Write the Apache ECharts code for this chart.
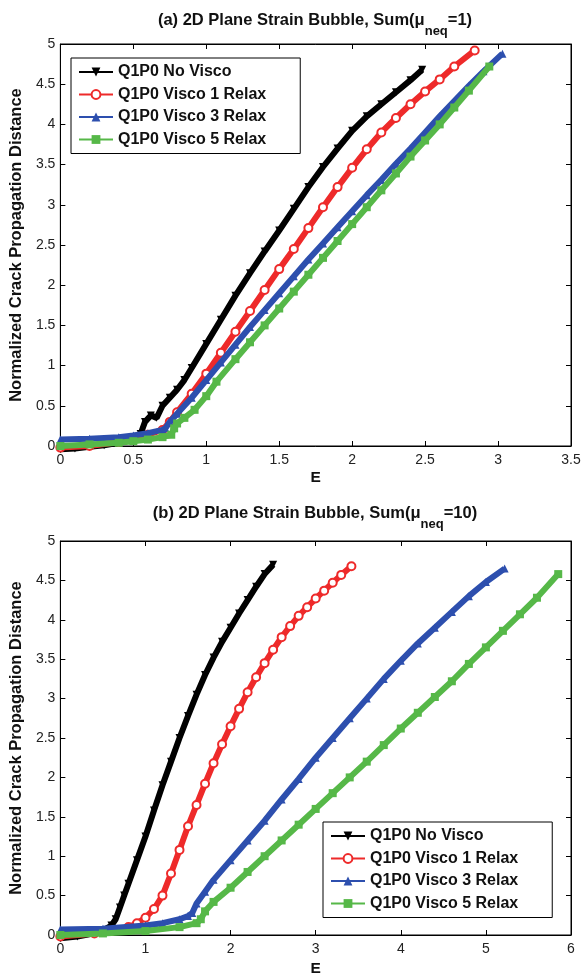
<!DOCTYPE html>
<html>
<head>
<meta charset="utf-8">
<script src="https://cdn.jsdelivr.net/npm/echarts@6/dist/echarts.min.js"></script>
<style>html,body{margin:0;padding:0;background:#fff;}#c{width:584px;height:978px;}</style>
</head>
<body>
<div id="c"></div>
<script>
// ---- data ----
const seriesNames = ['Q1P0 No Visco', 'Q1P0 Visco 1 Relax', 'Q1P0 Visco 3 Relax', 'Q1P0 Visco 5 Relax'];
const xTicksA = [0, 0.5, 1, 1.5, 2, 2.5, 3, 3.5];
const xTicksB = [0, 1, 2, 3, 4, 5, 6];
const yTicks = [0, 0.5, 1, 1.5, 2, 2.5, 3, 3.5, 4, 4.5, 5];
const titleA = '(a) 2D Plane Strain Bubble, Sum(μ{sub|neq}=1)';
const titleB = '(b) 2D Plane Strain Bubble, Sum(μ{sub|neq}=10)';

// plot (a): Sum(mu_neq = 1)
const aNoVisco = [[0,-0.04],[0.1,-0.03],[0.2,-0.01],[0.3,0.01],[0.4,0.04],[0.5,0.09],[0.55,0.15],[0.58,0.3],[0.62,0.38],[0.66,0.35],[0.7,0.5],[0.75,0.6],[0.8,0.7],[0.85,0.82],[0.9,0.97],[1.0,1.27],[1.1,1.57],[1.2,1.87],[1.3,2.15],[1.4,2.42],[1.5,2.68],[1.6,2.95],[1.7,3.22],[1.8,3.47],[1.9,3.7],[2.0,3.92],[2.1,4.1],[2.2,4.25],[2.3,4.4],[2.4,4.55],[2.48,4.68]];
const aVisco1 = [[0,-0.02],[0.2,0.0],[0.4,0.05],[0.5,0.09],[0.6,0.14],[0.7,0.2],[0.75,0.3],[0.8,0.42],[0.9,0.65],[1.0,0.9],[1.1,1.16],[1.2,1.42],[1.3,1.68],[1.4,1.94],[1.5,2.2],[1.6,2.45],[1.7,2.71],[1.8,2.97],[1.9,3.22],[2.0,3.46],[2.1,3.69],[2.2,3.9],[2.3,4.08],[2.4,4.25],[2.5,4.41],[2.6,4.56],[2.7,4.72],[2.84,4.92]];
const aVisco3 = [[0,0.08],[0.2,0.09],[0.4,0.11],[0.5,0.13],[0.6,0.16],[0.7,0.2],[0.72,0.22],[0.75,0.3],[0.8,0.4],[0.9,0.6],[1.0,0.82],[1.1,1.04],[1.2,1.26],[1.3,1.48],[1.4,1.69],[1.5,1.9],[1.6,2.11],[1.7,2.32],[1.8,2.52],[1.9,2.72],[2.0,2.92],[2.1,3.12],[2.2,3.31],[2.3,3.51],[2.4,3.7],[2.5,3.9],[2.6,4.1],[2.7,4.29],[2.8,4.48],[2.9,4.66],[3.03,4.88]];
const aVisco5 = [[0,0.0],[0.2,0.02],[0.4,0.04],[0.5,0.06],[0.6,0.08],[0.7,0.11],[0.76,0.14],[0.78,0.22],[0.8,0.28],[0.85,0.35],[0.92,0.45],[1.0,0.62],[1.07,0.8],[1.2,1.08],[1.3,1.29],[1.4,1.5],[1.5,1.71],[1.6,1.92],[1.7,2.13],[1.8,2.34],[1.9,2.55],[2.0,2.76],[2.1,2.97],[2.2,3.18],[2.3,3.39],[2.4,3.6],[2.5,3.8],[2.6,4.0],[2.7,4.21],[2.8,4.42],[2.94,4.72]];

// plot (b): Sum(mu_neq = 10)
const bNoVisco = [[0,-0.04],[0.2,-0.02],[0.4,0.02],[0.5,0.06],[0.6,0.12],[0.65,0.2],[0.7,0.35],[0.75,0.5],[0.8,0.65],[0.9,0.95],[1.0,1.25],[1.1,1.58],[1.2,1.9],[1.3,2.2],[1.4,2.5],[1.5,2.78],[1.6,3.05],[1.7,3.3],[1.8,3.52],[1.9,3.72],[2.0,3.9],[2.1,4.08],[2.2,4.25],[2.3,4.42],[2.4,4.58],[2.5,4.7]];
const bVisco1 = [[0,-0.02],[0.4,0.02],[0.6,0.05],[0.8,0.1],[0.9,0.15],[1.0,0.22],[1.1,0.33],[1.2,0.5],[1.3,0.78],[1.4,1.08],[1.5,1.38],[1.6,1.65],[1.7,1.92],[1.8,2.18],[1.9,2.42],[2.0,2.65],[2.1,2.87],[2.2,3.08],[2.3,3.27],[2.4,3.45],[2.5,3.62],[2.6,3.78],[2.7,3.92],[2.8,4.05],[2.9,4.16],[3.0,4.27],[3.1,4.37],[3.2,4.47],[3.3,4.57],[3.42,4.68]];
const bVisco3 = [[0,0.07],[0.5,0.08],[1.0,0.12],[1.2,0.15],[1.4,0.2],[1.5,0.24],[1.55,0.28],[1.6,0.4],[1.7,0.55],[1.8,0.7],[2.0,0.95],[2.2,1.2],[2.4,1.45],[2.6,1.72],[2.8,1.98],[3.0,2.25],[3.2,2.5],[3.4,2.75],[3.6,3.0],[3.8,3.25],[4.0,3.48],[4.2,3.7],[4.4,3.9],[4.6,4.1],[4.8,4.3],[5.0,4.48],[5.22,4.65]];
const bVisco5 = [[0,0.0],[0.5,0.02],[1.0,0.05],[1.4,0.1],[1.6,0.15],[1.65,0.2],[1.7,0.3],[1.8,0.42],[2.0,0.6],[2.2,0.8],[2.4,1.0],[2.6,1.2],[2.8,1.4],[3.0,1.6],[3.2,1.8],[3.4,2.0],[3.6,2.2],[3.8,2.41],[4.0,2.62],[4.2,2.82],[4.4,3.02],[4.6,3.22],[4.8,3.44],[5.0,3.65],[5.2,3.86],[5.4,4.07],[5.6,4.28],[5.85,4.58]];

const dataA = [aNoVisco, aVisco1, aVisco3, aVisco5];
const dataB = [bNoVisco, bVisco1, bVisco3, bVisco5];

// ---- styles ----
const FONT = '"Liberation Sans", Arial, sans-serif';
const colors = ['#000000', '#ee2a2a', '#2d4fae', '#56b848'];
const symbols = ['triangle', 'emptyCircle', 'triangle', 'rect'];
const rotates = [180, 0, 0, 0];

function mkSeries(data, axisIdx) {
  return data.map((d, i) => ({
    name: seriesNames[i],
    type: 'line',
    xAxisIndex: axisIdx,
    yAxisIndex: axisIdx,
    data: d,
    clip: false,
    color: colors[i],
    symbol: symbols[i],
    symbolRotate: rotates[i],
    symbolSize: 8,
    showAllSymbol: true,
    lineStyle: { width: 6, color: colors[i] },
    itemStyle: { color: colors[i], borderColor: colors[i], borderWidth: i === 1 ? 1.5 : 0 },
    animation: false,
    z: 2 + i
  }));
}

function xAx(grid, ticks, withLabels) {
  return {
    type: 'value', gridIndex: grid,
    position: withLabels ? 'bottom' : 'top',
    min: ticks[0], max: ticks[ticks.length - 1], interval: ticks[1] - ticks[0],
    name: withLabels ? 'E' : '',
    nameLocation: 'middle', nameGap: grid === 0 ? 24 : 26,
    nameTextStyle: { fontFamily: FONT, fontSize: 15.5, fontWeight: 'bold', color: '#111', verticalAlign: 'top' },
    axisLine: { show: true, onZero: false, lineStyle: { color: '#000', width: 1 } },
    axisTick: { show: true, inside: true, length: 5, lineStyle: { color: '#000' } },
    axisLabel: { show: withLabels, margin: 7, fontFamily: FONT, fontSize: 14, color: '#222' },
    splitLine: { show: false }
  };
}
function yAx(grid, withLabels) {
  return {
    type: 'value', gridIndex: grid,
    position: withLabels ? 'left' : 'right',
    min: yTicks[0], max: yTicks[yTicks.length - 1], interval: yTicks[1] - yTicks[0],
    name: withLabels ? 'Normalized Crack Propagation Distance' : '',
    nameLocation: 'middle', nameGap: 30,
    nameTextStyle: { fontFamily: FONT, fontSize: 16.5, fontWeight: 'bold', color: '#111' },
    axisLine: { show: true, onZero: false, lineStyle: { color: '#000', width: 1 } },
    axisTick: { show: true, inside: true, length: 5, lineStyle: { color: '#000' } },
    axisLabel: { show: withLabels, margin: 5, fontFamily: FONT, fontSize: 14, color: '#222' },
    splitLine: { show: false }
  };
}

function legendCfg(left, top) {
  return {
    data: seriesNames,
    left: left, top: top,
    orient: 'vertical',
    backgroundColor: '#fff',
    borderColor: '#000', borderWidth: 1,
    padding: [6, 34, 6, 7],
    itemWidth: 34, itemHeight: 11, itemGap: 6.5,
    lineStyle: { width: 2 },
    textStyle: { fontFamily: FONT, fontSize: 16, fontWeight: 'bold', color: '#111', lineHeight: 16 },
    selectedMode: false
  };
}

const titleRich = {
  sub: { fontFamily: FONT, fontSize: 13, fontWeight: 'bold', color: '#111', padding: [22, 0, 0, 0] }
};
function titleCfg(text, top) {
  return {
    text: text, left: 315, top: top, padding: 0, textAlign: 'center',
    textStyle: { fontFamily: FONT, fontSize: 16.5, fontWeight: 'bold', color: '#111', rich: titleRich }
  };
}

const chart = echarts.init(document.getElementById('c'), null, { renderer: 'canvas' });
chart.setOption({
  animation: false,
  backgroundColor: '#fff',
  title: [titleCfg(titleA, 3), titleCfg(titleB, 496)],
  grid: [
    { left: 59, top: 44, width: 512, height: 402, show: true, borderColor: '#000', borderWidth: 1 },
    { left: 59, top: 541, width: 512, height: 402, show: true, borderColor: '#000', borderWidth: 1 }
  ],
  xAxis: [xAx(0, xTicksA, true), xAx(0, xTicksA, false), xAx(1, xTicksB, true), xAx(1, xTicksB, false)],
  yAxis: [yAx(0, true), yAx(0, false), yAx(1, true), yAx(1, false)],
  legend: [legendCfg(71, 58), legendCfg(323, 822)],
  series: [].concat(mkSeries(dataA, 0), mkSeries(dataB, 2))
});
</script>
</body>
</html>
